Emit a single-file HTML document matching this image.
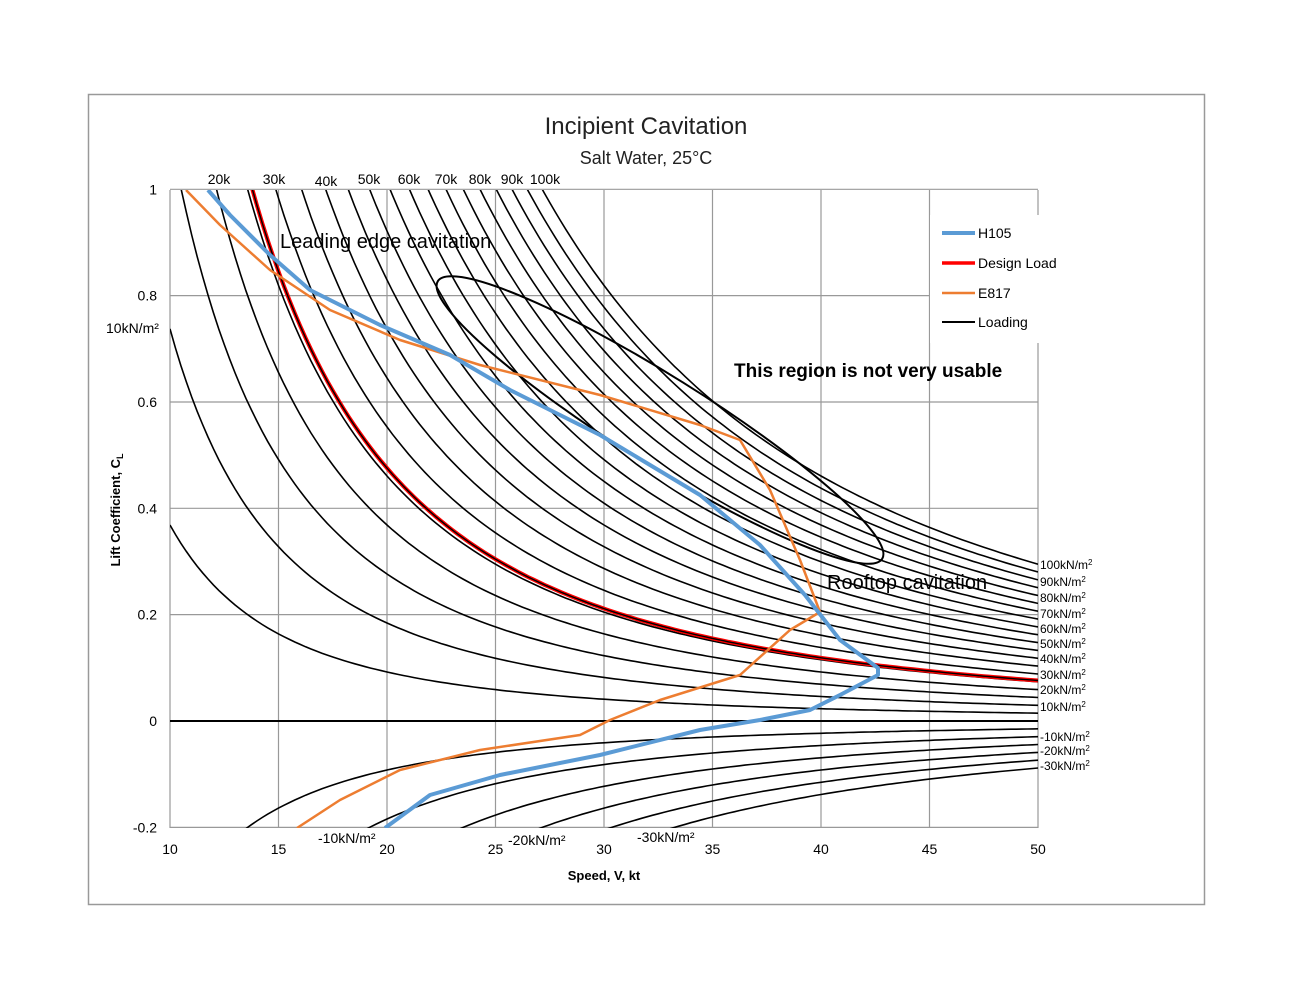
<!DOCTYPE html>
<html><head><meta charset="utf-8"><style>
html,body{margin:0;background:#fff;overflow:hidden;width:1294px;height:1000px;}
svg{display:block;font-family:"Liberation Sans",sans-serif;}
</style></head><body>
<svg id="s" width="1294" height="1000" xmlns="http://www.w3.org/2000/svg">
<rect x="88.5" y="94.5" width="1116" height="810" fill="#fff" stroke="#999" stroke-width="1.5"/>
<defs><clipPath id="c"><rect x="170" y="190" width="868" height="638"/></clipPath></defs>
<g id="grid" stroke="#999" stroke-width="1.2"></g>
<g id="curves" clip-path="url(#c)" fill="none"></g>
<text x="646" y="134" font-size="24" text-anchor="middle" fill="#222">Incipient Cavitation</text>
<text x="646" y="164" font-size="18" text-anchor="middle" fill="#222">Salt Water, 25°C</text>
<g font-size="14" fill="#000" id="tl"></g>
<text x="280" y="248" font-size="20" fill="#000">Leading edge cavitation</text>
<text x="827" y="589" font-size="20" fill="#000">Rooftop cavitation</text>
<text x="734" y="377" font-size="19" font-weight="bold" fill="#000">This region is not very usable</text>
<text x="604" y="880" font-size="13" font-weight="bold" text-anchor="middle">Speed, V, kt</text>
<text transform="translate(120,510) rotate(-90)" font-size="13" font-weight="bold" text-anchor="middle">Lift Coefficient, C<tspan font-size="9" dy="3">L</tspan></text>
<text x="106" y="333" font-size="14">10kN/m²</text>
<text x="318" y="843" font-size="14">-10kN/m²</text>
<text x="508" y="845" font-size="14">-20kN/m²</text>
<text x="637" y="842" font-size="14">-30kN/m²</text>
<rect x="930" y="215" width="110" height="128" fill="#fff"/>
<g font-size="14">
<line x1="942" y1="233" x2="975" y2="233" stroke="#5b9bd5" stroke-width="4"/><text x="978" y="238">H105</text>
<line x1="942" y1="263" x2="975" y2="263" stroke="#f00" stroke-width="3.5"/><text x="978" y="268">Design Load</text>
<line x1="942" y1="293" x2="975" y2="293" stroke="#ed7d31" stroke-width="2.5"/><text x="978" y="298">E817</text>
<line x1="942" y1="322" x2="975" y2="322" stroke="#000" stroke-width="2"/><text x="978" y="327">Loading</text>
</g>
</svg>
<script>
const X=v=>170+(v-10)*21.7, Y=c=>721-c*531.7;
const ns="http://www.w3.org/2000/svg";
function el(p,t,a,txt){const e=document.createElementNS(ns,t);for(const k in a)e.setAttribute(k,a[k]);if(txt!==undefined)e.textContent=txt;document.getElementById(p).appendChild(e);return e;}
for(let v=10;v<=50;v+=5){el('grid','line',{x1:X(v),x2:X(v),y1:190,y2:828});el('tl','text',{x:X(v),y:854,'text-anchor':'middle'},v);}
[-0.2,0,0.2,0.4,0.6,0.8,1].forEach(c=>{el('grid','line',{x1:170,x2:1038,y1:Y(c),y2:Y(c)});el('tl','text',{x:157,y:Y(c)+5,'text-anchor':'end'},c);});
el('curves','line',{x1:170,x2:1038,y1:721,y2:721,stroke:'#000','stroke-width':2});
function curve(L,col,w){let d='';for(let v=10;v<=50.01;v+=0.25){const c=7.374*L/(v*v);d+=(d?'L':'M')+X(v).toFixed(1)+','+Y(c).toFixed(1);}return el('curves','path',{d:d,stroke:col,'stroke-width':w});}
for(let l=5;l<=100;l+=5)curve(l,'#000',1.6);
for(let l=-5;l>=-30;l-=5)curve(l,'#000',1.6);
curve(25.8,'#f00',4);curve(25.8,'#000',1.4);
const tl=[[20,219],[30,274],[40,326],[50,369],[60,409],[70,446],[80,480],[90,512],[100,545]];
tl.forEach(t=>el('tl','text',{x:t[1],y:t[0]==40?186:184,'text-anchor':'middle'},t[0]+'k'));
const rl=[[100,565],[90,582],[80,598],[70,614],[60,629],[50,644],[40,659],[30,675],[20,690],[10,707],[-10,737],[-20,751],[-30,766]];
rl.forEach(r=>{const t=el('tl','text',{x:1040,y:r[1]+4,'font-size':12},r[0]+'kN/m');const e2=document.createElementNS(ns,'tspan');e2.setAttribute('dy','-4');e2.setAttribute('font-size','8');e2.textContent='2';t.appendChild(e2);});
el('curves','ellipse',{cx:660,cy:420,rx:262,ry:44,transform:'rotate(32 660 420)',stroke:'#000','stroke-width':2});
function poly(pts,col,w){el('curves','polyline',{points:pts.map(p=>p.join(',')).join(' '),stroke:col,'stroke-width':w,'stroke-linejoin':'round'});}
poly([[186,190],[220,225],[270,270],[330,310],[400,340],[480,365],[600,395],[700,425],[740,440],[770,490],[800,560],[820,612],[790,630],[740,675],[660,700],[610,720],[580,735],[480,750],[400,770],[340,800],[297,828]],'#ed7d31',2.5);
poly([[208,190],[230,215],[270,255],[310,290],[380,325],[450,355],[510,390],[600,435],[700,495],[760,545],[805,595],[840,640],[878,668],[878,675],[840,695],[810,710],[760,720],[700,730],[600,755],[500,775],[430,795],[385,828]],'#5b9bd5',4);
</script>
</body></html>
